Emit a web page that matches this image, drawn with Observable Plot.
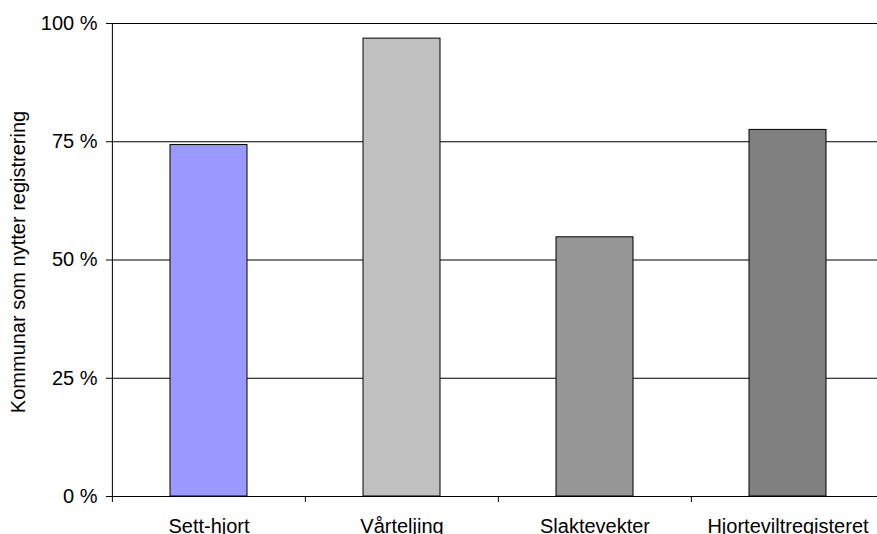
<!DOCTYPE html>
<html>
<head>
<meta charset="utf-8">
<script src="https://cdn.jsdelivr.net/npm/d3@7"></script>
<script src="https://cdn.jsdelivr.net/npm/@observablehq/plot@0.6"></script>
<style>
  html, body { margin: 0; padding: 0; background: #fff; }
  #chart svg { display: block; }
</style>
</head>
<body>
<div id="chart"></div>
<script>
const categories = ["Sett-hjort", "Vårteljing", "Slaktevekter", "Hjorteviltregisteret"];
const values = [74.3, 96.8, 54.8, 77.5];
const yTicks = [0, 25, 50, 75, 100];
const yTitle = "Kommunar som nytter registrering";
const palette = ["#9999FF", "#C0C0C0", "#969696", "#808080"];

const data = categories.map((c, i) => ({category: c, value: values[i]}));

const W = 877, H = 534;
const mLeft = 112, mTop = 23, mBottom = 38;
const xRange = [112, 885];
const step = (xRange[1] - xRange[0]) / categories.length;

const chart = Plot.plot({
  width: W,
  height: H,
  marginLeft: mLeft,
  marginRight: 0,
  marginTop: mTop,
  marginBottom: mBottom,
  style: {fontFamily: "'Liberation Sans', Arial, sans-serif", fontSize: "20px", color: "#000", background: "#fff"},
  x: {domain: categories, range: xRange, paddingInner: 0.6, paddingOuter: 0.3, axis: null},
  y: {domain: [0, 100], axis: null},
  color: {domain: categories, range: palette},
  marks: [
    Plot.ruleY(yTicks, {stroke: "#000", strokeWidth: 1, insetLeft: -6}),
    Plot.ruleX([categories[0]], {x: d => d, dx: -step / 2, y1: 0, y2: 100, stroke: "#000"}),
    Plot.ruleX(categories, {x: d => d, dx: -step / 2, y1: 0, y2: 0, insetBottom: -6, stroke: "#000"}),
    Plot.barY(data, {x: "category", y1: 0, y2: "value", fill: "category", stroke: "#000", strokeWidth: 1}),
    Plot.axisY({ticks: yTicks, tickSize: 0, tickPadding: 15, tickFormat: d => d + " %", fontSize: 20, label: null}),
    Plot.axisX({tickSize: 0, tickPadding: 22, fontSize: 20, label: null}),
    Plot.text([yTitle], {frameAnchor: "left", textAnchor: "middle", text: d => d, rotate: -90, dx: -94, dy: 2, fontSize: 20, fill: "#000"})
  ]
});
document.getElementById("chart").appendChild(chart);
</script>
</body>
</html>
